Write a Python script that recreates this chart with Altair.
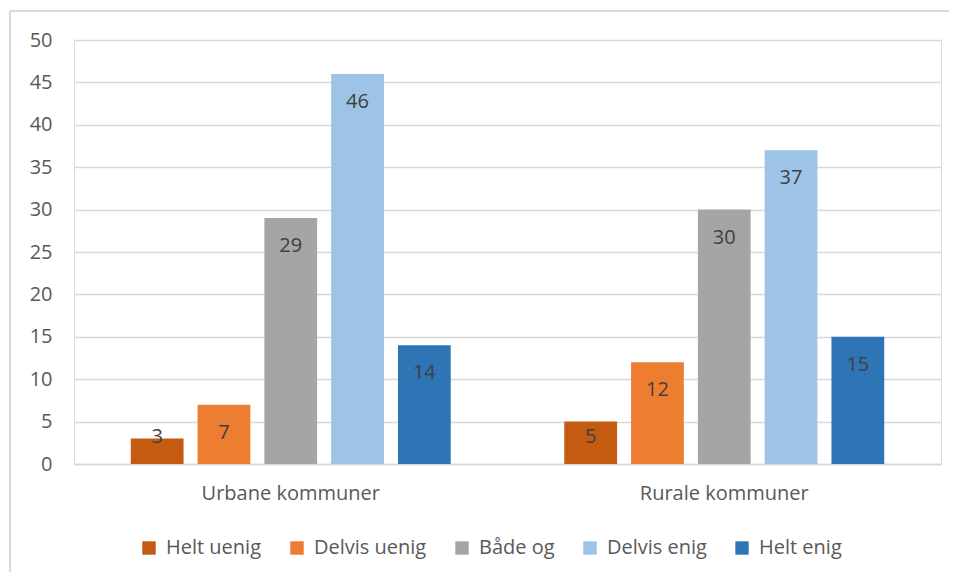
import altair as alt
import pandas as pd

categories = ["Urbane kommuner", "Rurale kommuner"]
series = ["Helt uenig", "Delvis uenig", "Både og", "Delvis enig", "Helt enig"]
urbane = [3, 7, 29, 46, 14]
rurale = [5, 12, 30, 37, 15]
colors = ["#C55A11", "#ED7D31", "#A5A5A5", "#9DC3E6", "#2E75B6"]
y_ticks = list(range(0, 51, 5))

rows = []
for cat, vals in zip(categories, [urbane, rurale]):
    for s, v in zip(series, vals):
        rows.append({"kategori": cat, "serie": s, "verdi": v})
df = pd.DataFrame(rows)

FONT = "Open Sans"
FS = 20
W, H = 867, 424

x = alt.X("kategori:N", sort=categories, title=None,
          scale=alt.Scale(paddingInner=0, paddingOuter=0),
          axis=alt.Axis(labelAngle=0, ticks=False, domainColor="#D9D9D9",
                        domainWidth=1.5, labelFontSize=FS, labelColor="#595959",
                        labelFont=FONT, labelPadding=19, grid=False))
xo = alt.XOffset("serie:N", sort=series,
                 scale=alt.Scale(paddingInner=0.21, paddingOuter=0.85))
y = alt.Y("verdi:Q", title=None,
          scale=alt.Scale(domain=[0, 50], nice=False),
          axis=alt.Axis(values=y_ticks, ticks=False, domain=False,
                        gridColor="#D9D9D9", gridWidth=1.5, labelFontSize=FS,
                        labelColor="#595959", labelFont=FONT, labelPadding=22))
color = alt.Color("serie:N", sort=series,
                  scale=alt.Scale(domain=series, range=colors),
                  legend=alt.Legend(title=None, orient="none", direction="horizontal",
                                    columns=5, legendX=65, legendY=498,
                                    symbolType="square", symbolSize=180,
                                    symbolStrokeWidth=0, labelFontSize=FS,
                                    labelColor="#595959", labelFont=FONT,
                                    labelOffset=7, columnPadding=25))

bars = alt.Chart(df).mark_bar().encode(x=x, xOffset=xo, y=y, color=color)

labels = alt.Chart(df).transform_calculate(
    lab="max(datum.verdi - 3.3, 3.2)"
).mark_text(fontSize=FS, color="#404040", font=FONT, baseline="middle").encode(
    x=alt.X("kategori:N", sort=categories),
    xOffset=alt.XOffset("serie:N", sort=series),
    y=alt.Y("lab:Q"),
    text=alt.Text("verdi:Q"),
)

border_top = alt.Chart(df).mark_rule(color="#D9D9D9", strokeWidth=1.5).encode(
    x=alt.value(-64), x2=alt.value(W + 20), y=alt.value(-29))
border_left = alt.Chart(df).mark_rule(color="#D9D9D9", strokeWidth=1.5).encode(
    x=alt.value(-64), y=alt.value(-29), y2=alt.value(H + 120))

chart = alt.layer(bars, labels, border_top, border_left).properties(
    width=W, height=H,
    autosize=alt.AutoSizeParams(type="none"),
    padding={"left": 66, "top": 32, "right": 8, "bottom": 108},
).configure_view(stroke=None).configure(background="white")

chart.save("out.html", embed_options={"renderer": "svg", "actions": False})
